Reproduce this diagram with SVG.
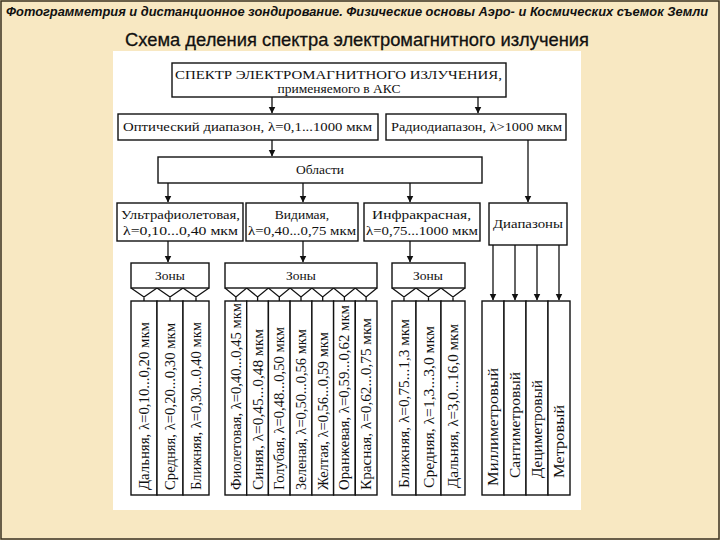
<svg xmlns="http://www.w3.org/2000/svg" width="720" height="540" viewBox="0 0 720 540">
<defs>
<style>
.bx{fill:#fff;stroke:#111;stroke-width:1.4}
.ln{fill:none;stroke:#111;stroke-width:1.3}
.t{font-family:"Liberation Serif","DejaVu Serif",serif;font-size:13.5px;fill:#111}
.c{text-anchor:middle}
.v{font-family:"Liberation Serif","DejaVu Serif",serif;font-size:14px;fill:#111}
</style>
<marker id="ah" markerWidth="7" markerHeight="8" refX="6.5" refY="3.5" orient="auto" markerUnits="userSpaceOnUse">
<path d="M0,0 L7,3.5 L0,7 Z" fill="#111"/>
</marker>
</defs>
<rect x="0" y="0" width="720" height="540" fill="#f8e8c2"/>
<rect x="1" y="1" width="718" height="538" fill="none" stroke="#3a3020" stroke-width="1.5"/>
<rect x="113" y="51" width="468" height="459" fill="#fff"/>
<text x="6" y="16" font-family="'Liberation Sans',Arial,sans-serif" font-size="12.5" font-style="italic" font-weight="bold" textLength="702" lengthAdjust="spacingAndGlyphs" fill="#111">Фотограмметрия и дистанционное зондирование. Физические основы Аэро- и Космических съемок Земли</text>
<text x="125" y="46" font-family="'Liberation Sans',Arial,sans-serif" font-size="19" textLength="464" lengthAdjust="spacingAndGlyphs" fill="#111" stroke="#111" stroke-width="0.3">Схема деления спектра электромагнитного излучения</text>

<g id="connectors">
<path class="ln" d="M272,97 V113" marker-end="url(#ah)"/>
<path class="ln" d="M478,97 V113" marker-end="url(#ah)"/>
<path class="ln" d="M272,140 V156" marker-end="url(#ah)"/>
<path class="ln" d="M528,140 V202" marker-end="url(#ah)"/>
<path class="ln" d="M168,183 V202" marker-end="url(#ah)"/>
<path class="ln" d="M303,183 V202" marker-end="url(#ah)"/>
<path class="ln" d="M410,183 V202" marker-end="url(#ah)"/>
<path class="ln" d="M168,241 V262" marker-end="url(#ah)"/>
<path class="ln" d="M303,241 V262" marker-end="url(#ah)"/>
<path class="ln" d="M410,241 V262" marker-end="url(#ah)"/>
<path class="ln" d="M493,245 V300" marker-end="url(#ah)"/>
<path class="ln" d="M515,245 V300" marker-end="url(#ah)"/>
<path class="ln" d="M537,245 V300" marker-end="url(#ah)"/>
<path class="ln" d="M559,245 V300" marker-end="url(#ah)"/>
<path class="ln" d="M131,288 L144,297 L157,288 L170,297 L183,288 L196,297 L209,288 M144,297 V301 M170,297 V301 M196,297 V301"/>
<path class="ln" d="M225,288 L235.9,297 L246.7,288 L257.6,297 L268.4,288 L279.3,297 L290.1,288 L301,297 L311.9,288 L322.7,297 L333.6,288 L344.4,297 L355.3,288 L366.1,297 L377,288 M235.9,297 V301 M257.6,297 V301 M279.3,297 V301 M301,297 V301 M322.7,297 V301 M344.4,297 V301 M366.1,297 V301"/>
<path class="ln" d="M392,288 L404,297 L416,288 L428.5,297 L441,288 L453,297 L465,288 M404,297 V301 M428.5,297 V301 M453,297 V301"/>
</g>

<g id="spectrum">
<rect class="bx" x="172" y="63" width="334" height="34"/>
<text class="t" x="175" y="79" font-size="14" textLength="327" lengthAdjust="spacingAndGlyphs">СПЕКТР ЭЛЕКТРОМАГНИТНОГО ИЗЛУЧЕНИЯ,</text>
<text class="t c" x="339" y="93">применяемого в АКС</text>
</g>
<g id="optical">
<rect class="bx" x="118" y="114" width="260" height="26"/>
<text class="t" x="123" y="131" textLength="249" lengthAdjust="spacingAndGlyphs">Оптический диапазон, λ=0,1...1000 мкм</text>
</g>
<g id="radio">
<rect class="bx" x="386" y="114" width="180" height="26"/>
<text class="t" x="391" y="131" textLength="171" lengthAdjust="spacingAndGlyphs">Радиодиапазон, λ&gt;1000 мкм</text>
</g>
<g id="oblasti">
<rect class="bx" x="158" y="157" width="324" height="26"/>
<text class="t c" x="320" y="174">Области</text>
</g>
<g id="uv">
<rect class="bx" x="117" y="203" width="126" height="38"/>
<text class="t" x="121" y="219" textLength="119" lengthAdjust="spacingAndGlyphs">Ультрафиолетовая,</text>
<text class="t" x="123" y="235" textLength="115" lengthAdjust="spacingAndGlyphs">λ=0,10...0,40 мкм</text>
</g>
<g id="visible">
<rect class="bx" x="246" y="203" width="112" height="38"/>
<text class="t c" x="302" y="219">Видимая,</text>
<text class="t" x="248" y="235" textLength="108" lengthAdjust="spacingAndGlyphs">λ=0,40...0,75 мкм</text>
</g>
<g id="infrared">
<rect class="bx" x="364" y="203" width="116" height="38"/>
<text class="t" x="372" y="219" textLength="99" lengthAdjust="spacingAndGlyphs">Инфракрасная,</text>
<text class="t" x="366" y="235" textLength="112" lengthAdjust="spacingAndGlyphs">λ=0,75...1000 мкм</text>
</g>
<g id="diapazony">
<rect class="bx" x="489" y="203" width="78" height="42"/>
<text class="t c" x="528" y="228" textLength="70" lengthAdjust="spacingAndGlyphs">Диапазоны</text>
</g>
<g id="zones-uv">
<rect class="bx" x="131" y="263" width="78" height="25"/>
<text class="t c" x="170" y="280">Зоны</text>
</g>
<g id="zones-vis">
<rect class="bx" x="225" y="263" width="152" height="25"/>
<text class="t c" x="301" y="280">Зоны</text>
</g>
<g id="zones-ir">
<rect class="bx" x="392" y="263" width="73" height="25"/>
<text class="t c" x="428" y="280">Зоны</text>
</g>

<g id="uv-bands">
<rect class="bx" x="131" y="301" width="26" height="194"/>
<rect class="bx" x="157" y="301" width="26" height="194"/>
<rect class="bx" x="183" y="301" width="26" height="194"/>
<text class="v" transform="translate(148.5,490) rotate(-90)" textLength="168" lengthAdjust="spacingAndGlyphs">Дальняя, λ=0,10...0,20 мкм</text>
<text class="v" transform="translate(174.5,490) rotate(-90)" textLength="167" lengthAdjust="spacingAndGlyphs">Средняя, λ=0,20...0,30 мкм</text>
<text class="v" transform="translate(200.5,490) rotate(-90)" textLength="168" lengthAdjust="spacingAndGlyphs">Ближняя, λ=0,30...0,40 мкм</text>
</g>
<g id="vis-bands">
<rect class="bx" x="225" y="301" width="21.7" height="194"/>
<rect class="bx" x="246.7" y="301" width="21.7" height="194"/>
<rect class="bx" x="268.4" y="301" width="21.7" height="194"/>
<rect class="bx" x="290.1" y="301" width="21.8" height="194"/>
<rect class="bx" x="311.9" y="301" width="21.7" height="194"/>
<rect class="bx" x="333.6" y="301" width="21.7" height="194"/>
<rect class="bx" x="355.3" y="301" width="21.7" height="194"/>
<text class="v" transform="translate(240.8,490) rotate(-90)" textLength="187" lengthAdjust="spacingAndGlyphs">Фиолетовая, λ=0,40...0,45 мкм</text>
<text class="v" transform="translate(262.5,490) rotate(-90)" textLength="161" lengthAdjust="spacingAndGlyphs">Синяя, λ=0,45...0,48 мкм</text>
<text class="v" transform="translate(284.2,490) rotate(-90)" textLength="163" lengthAdjust="spacingAndGlyphs">Голубая, λ=0,48...0,50 мкм</text>
<text class="v" transform="translate(305.9,490) rotate(-90)" textLength="161" lengthAdjust="spacingAndGlyphs">Зеленая, λ=0,50...0,56 мкм</text>
<text class="v" transform="translate(327.6,490) rotate(-90)" textLength="158" lengthAdjust="spacingAndGlyphs">Желтая, λ=0,56...0,59 мкм</text>
<text class="v" transform="translate(349.3,490) rotate(-90)" textLength="185" lengthAdjust="spacingAndGlyphs">Оранжевая, λ=0,59...0,62 мкм</text>
<text class="v" transform="translate(371,490) rotate(-90)" textLength="172" lengthAdjust="spacingAndGlyphs">Красная, λ=0,62...0,75 мкм</text>
</g>
<g id="ir-bands">
<rect class="bx" x="392" y="301" width="24" height="194"/>
<rect class="bx" x="416" y="301" width="25" height="194"/>
<rect class="bx" x="441" y="301" width="24" height="194"/>
<text class="v" transform="translate(409,488) rotate(-90)" textLength="169" lengthAdjust="spacingAndGlyphs">Ближняя, λ=0,75...1,3 мкм</text>
<text class="v" transform="translate(433.5,488) rotate(-90)" textLength="162" lengthAdjust="spacingAndGlyphs">Средняя, λ=1,3...3,0 мкм</text>
<text class="v" transform="translate(458,488) rotate(-90)" textLength="164" lengthAdjust="spacingAndGlyphs">Дальняя, λ=3,0...16,0 мкм</text>
</g>
<g id="radio-bands">
<rect class="bx" x="482" y="301" width="22" height="194"/>
<rect class="bx" x="504" y="301" width="22" height="194"/>
<rect class="bx" x="526" y="301" width="22" height="194"/>
<rect class="bx" x="548" y="301" width="22" height="194"/>
<text class="v" transform="translate(498,486) rotate(-90)" textLength="118" lengthAdjust="spacingAndGlyphs">Миллиметровый</text>
<text class="v" transform="translate(520,478) rotate(-90)" textLength="106" lengthAdjust="spacingAndGlyphs">Сантиметровый</text>
<text class="v" transform="translate(542,478) rotate(-90)" textLength="98" lengthAdjust="spacingAndGlyphs">Дециметровый</text>
<text class="v" transform="translate(564,478) rotate(-90)" textLength="73" lengthAdjust="spacingAndGlyphs">Метровый</text>
</g>
</svg>
